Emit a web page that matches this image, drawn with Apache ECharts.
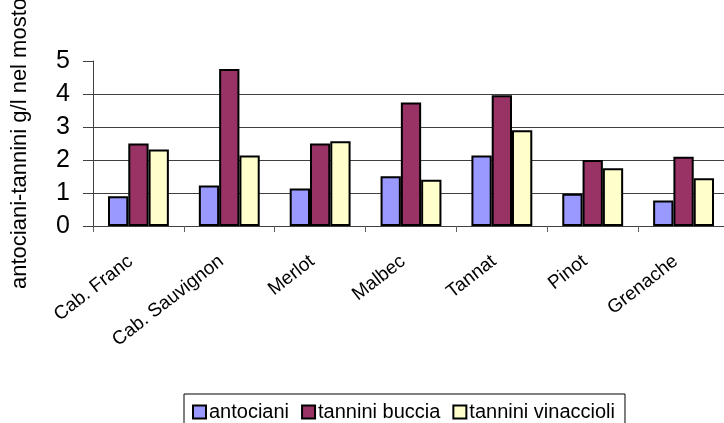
<!DOCTYPE html>
<html>
<head>
<meta charset="utf-8">
<script src="https://cdn.jsdelivr.net/npm/echarts@6/dist/echarts.min.js"></script>
<style>
  html, body { margin: 0; padding: 0; background: #ffffff; }
  #chart { width: 724px; height: 423px; }
</style>
</head>
<body>
<div id="chart"></div>
<script>
// Grape varieties on the category axis
const varieties = ['Cab. Franc', 'Cab. Sauvignon', 'Merlot', 'Malbec', 'Tannat', 'Pinot', 'Grenache'];

// g/l in the must
const antociani = [0.90, 1.23, 1.14, 1.51, 2.14, 0.98, 0.77];
const tanniniBuccia = [2.50, 4.76, 2.50, 3.74, 3.96, 2.00, 2.10];
const tanniniVinaccioli = [2.32, 2.14, 2.57, 1.40, 2.90, 1.75, 1.45];

const seriesNames = ['antociani', 'tannini buccia', 'tannini vinaccioli'];
const seriesColors = ['#9999FF', '#993366', '#FFFFCC'];
const seriesValues = [antociani, tanniniBuccia, tanniniVinaccioli];

const yTicks = [0, 1, 2, 3, 4, 5];
const yName = 'antociani-tannini g/l nel mosto';

const FONT = '"Liberation Sans", Arial, sans-serif';

const chart = echarts.init(document.getElementById('chart'), null, { renderer: 'canvas' });

chart.setOption({
  animation: false,
  backgroundColor: '#ffffff',
  textStyle: { fontFamily: FONT, color: '#000' },
  grid: { left: 93, top: 61, right: -5, bottom: 197, containLabel: false, outerBoundsMode: 'none' },
  legend: {
    data: seriesNames,
    left: 184,
    top: 394,
    orient: 'horizontal',
    itemWidth: 13,
    itemHeight: 13,
    itemGap: 12,
    padding: [8, 10, 12, 8],
    borderColor: '#000',
    borderWidth: 1,
    backgroundColor: '#fff',
    icon: 'rect',
    textStyle: { fontFamily: FONT, fontSize: 20, color: '#000', padding: [0, 0, 0, -2] }
  },
  xAxis: {
    type: 'category',
    data: varieties,
    boundaryGap: true,
    axisLine: { show: true, lineStyle: { color: '#404040', width: 1 } },
    axisTick: { show: true, length: 6, lineStyle: { color: '#606060' } },
    axisLabel: {
      rotate: 38,
      interval: 0,
      margin: 27,
      padding: [0, 10, 0, 0],
      fontFamily: FONT,
      fontSize: 19,
      color: '#000'
    },
    splitLine: { show: false }
  },
  yAxis: {
    type: 'value',
    min: yTicks[0],
    max: yTicks[yTicks.length - 1],
    interval: 1,
    name: yName,
    nameLocation: 'middle',
    nameRotate: 90,
    nameGap: 62,
    nameTextStyle: { fontFamily: FONT, fontSize: 22, color: '#000' },
    axisLine: { show: true, lineStyle: { color: '#404040', width: 1 } },
    axisTick: { show: true, length: 10, inside: false, lineStyle: { color: '#404040' } },
    axisLabel: { margin: 23, fontFamily: FONT, fontSize: 25, color: '#000' },
    splitLine: {
      show: true,
      lineStyle: {
        width: 1,
        // no gridline at the top value
        color: ['#404040', '#404040', '#404040', '#404040', '#404040', 'rgba(0,0,0,0)']
      }
    }
  },
  series: seriesNames.map((name, i) => ({
    name: name,
    type: 'bar',
    data: seriesValues[i],
    barGap: '0%',
    barCategoryGap: '33%',
    itemStyle: { color: seriesColors[i], borderColor: '#000', borderWidth: 2 }
  }))
});
</script>
</body>
</html>
